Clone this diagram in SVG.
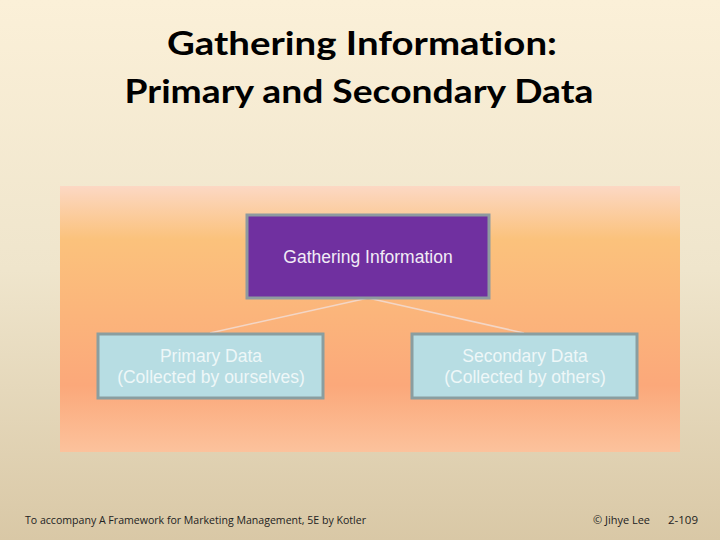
<svg xmlns="http://www.w3.org/2000/svg" width="720" height="540" viewBox="0 0 720 540">
<defs>
<linearGradient id="bg" x1="0" y1="0" x2="0" y2="1">
<stop offset="0" stop-color="#fbf0d8"/>
<stop offset="0.5" stop-color="#efe5cc"/>
<stop offset="1" stop-color="#d9c8a6"/>
</linearGradient>
<linearGradient id="panel" x1="0" y1="0" x2="0" y2="1">
<stop offset="0" stop-color="#fcd8c4"/>
<stop offset="0.2" stop-color="#fbc27c"/>
<stop offset="0.75" stop-color="#fba87a"/>
<stop offset="1" stop-color="#fcc29c"/>
</linearGradient>
<style>
.title{font-family:Lato,"Liberation Sans",sans-serif;font-weight:bold;font-size:32px;fill:#000;text-anchor:middle;font-variant-ligatures:none}
.node-text{font-family:"Liberation Sans",Arial,sans-serif;font-size:17.5px;text-anchor:middle}
.child{fill:#b7dde3;stroke:#8a9ea0;stroke-width:3}
.child-text{fill:#eef7f8}
.foot{font-family:"Open Sans","Liberation Sans",sans-serif;font-size:10.5px;fill:#222}
.conn{stroke:#f3d6c6;stroke-width:1.5;fill:none}
</style>
</defs>
<rect width="720" height="540" fill="url(#bg)"/>
<text class="title" x="362" y="55" textLength="390" lengthAdjust="spacingAndGlyphs">Gathering Information:</text>
<text class="title" x="359" y="103" textLength="469" lengthAdjust="spacingAndGlyphs">Primary and Secondary Data</text>
<rect x="60" y="186" width="620" height="266" fill="url(#panel)"/>
<g id="connectors">
<line class="conn" x1="368" y1="298" x2="210" y2="333"/>
<line class="conn" x1="368" y1="298" x2="524" y2="333"/>
</g>
<g id="gathering">
<rect x="247" y="215" width="242" height="83" fill="#7030a0" stroke="#8e9aa0" stroke-width="3"/>
<text class="node-text" x="368" y="263" fill="#f2ecf6">Gathering Information</text>
</g>
<g id="primary">
<rect class="child" x="98" y="334" width="225" height="64"/>
<text class="node-text child-text" x="211" y="362">Primary Data</text>
<text class="node-text child-text" x="211" y="383">(Collected by ourselves)</text>
</g>
<g id="secondary">
<rect class="child" x="412" y="334" width="225" height="64"/>
<text class="node-text child-text" x="525" y="362">Secondary Data</text>
<text class="node-text child-text" x="525" y="383">(Collected by others)</text>
</g>
<text class="foot" x="25" y="524" textLength="341" lengthAdjust="spacingAndGlyphs">To accompany A Framework for Marketing Management, 5E by Kotler</text>
<text class="foot" x="593" y="524" textLength="57" lengthAdjust="spacingAndGlyphs">© Jihye Lee</text>
<text class="foot" x="668" y="524" textLength="30" lengthAdjust="spacingAndGlyphs">2-109</text>
</svg>
